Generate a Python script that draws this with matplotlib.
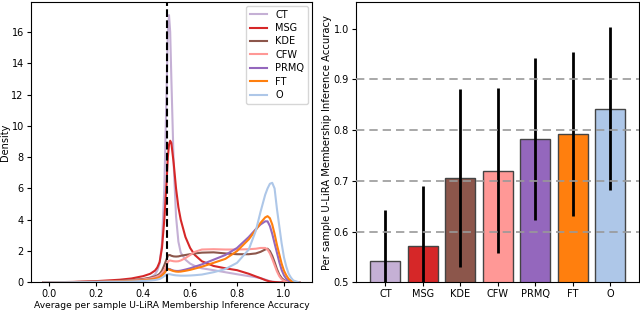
import matplotlib
matplotlib.use("Agg")
import matplotlib.pyplot as plt
import numpy as np

methods = ["CT", "MSG", "KDE", "CFW", "PRMQ", "FT", "O"]
colors = ["#c5b0d5", "#d62728", "#8c564b", "#ff9896", "#9467bd", "#ff7f0e", "#aec7e8"]

# density curves
xs = [-0.025, 0.1, 0.2, 0.3, 0.35, 0.4, 0.43, 0.45, 0.46, 0.47, 0.48, 0.49, 0.50,
      0.505, 0.51, 0.515, 0.52, 0.53, 0.54, 0.55, 0.56, 0.58, 0.60, 0.62, 0.65, 0.70,
      0.75, 0.80, 0.85, 0.88, 0.90, 0.92, 0.93, 0.94, 0.95, 0.96, 0.97, 0.98, 0.99,
      1.00, 1.01, 1.02, 1.03, 1.04, 1.065]
dens_ct = [0, 0.01, 0.03, 0.06, 0.1, 0.18, 0.3, 0.5, 0.75, 1.2, 2.5, 6.0, 12.5,
           16.0, 17.07, 16.0, 13.0, 7.5, 4.2, 2.6, 1.9, 1.45, 1.2, 1.05, 0.9, 0.78,
           0.65, 0.52, 0.4, 0.33, 0.27, 0.18, 0.13, 0.08, 0.05, 0.03, 0.015, 0.005, 0,
           0, 0, 0, 0, 0, 0]
dens_msg = [0, 0.03, 0.08, 0.17, 0.25, 0.4, 0.55, 0.75, 0.95, 1.3, 2.2, 4.0, 6.5,
            8.0, 8.8, 9.05, 8.9, 7.6, 6.0, 4.8, 4.0, 2.9, 2.2, 1.75, 1.35, 1.05,
            0.9, 0.78, 0.55, 0.38, 0.27, 0.15, 0.1, 0.06, 0.03, 0.02, 0.01, 0, 0,
            0, 0, 0, 0, 0, 0]
dens_kde = [0, 0.02, 0.05, 0.1, 0.15, 0.22, 0.3, 0.38, 0.45, 0.55, 0.75, 1.1, 1.5,
            1.7, 1.75, 1.74, 1.7, 1.66, 1.65, 1.66, 1.7, 1.75, 1.8, 1.85, 1.9, 1.92,
            1.85, 1.8, 1.8, 1.85, 1.95, 2.1, 2.15, 2.0, 1.7, 1.3, 0.85, 0.5, 0.28,
            0.15, 0.07, 0.03, 0.01, 0, 0]
dens_cfw = [0, 0.02, 0.04, 0.08, 0.12, 0.18, 0.25, 0.32, 0.38, 0.45, 0.6, 0.8, 1.1,
            1.3, 1.38, 1.4, 1.38, 1.35, 1.34, 1.35, 1.4, 1.55, 1.75, 1.95, 2.1, 2.12,
            2.1, 2.1, 2.12, 2.15, 2.2, 2.2, 2.1, 1.85, 1.5, 1.1, 0.7, 0.4, 0.2,
            0.1, 0.04, 0.02, 0, 0, 0]
dens_prmq = [0, 0.01, 0.03, 0.06, 0.09, 0.13, 0.18, 0.23, 0.27, 0.33, 0.45, 0.6, 0.8,
             0.86, 0.86, 0.84, 0.8, 0.75, 0.73, 0.73, 0.75, 0.82, 0.9, 1.0, 1.15, 1.45,
             1.75, 2.2, 2.9, 3.4, 3.7, 3.9, 3.9, 3.6, 3.1, 2.5, 1.9, 1.3, 0.8,
             0.45, 0.22, 0.1, 0.04, 0.01, 0]
dens_ft = [0, 0.01, 0.03, 0.06, 0.09, 0.13, 0.18, 0.23, 0.27, 0.33, 0.45, 0.6, 0.8,
           0.84, 0.83, 0.8, 0.77, 0.72, 0.69, 0.68, 0.69, 0.74, 0.8, 0.88, 1.0, 1.25,
           1.5, 2.0, 2.75, 3.35, 3.8, 4.15, 4.23, 4.1, 3.7, 3.1, 2.4, 1.8, 1.2,
           0.75, 0.45, 0.22, 0.1, 0.04, 0]
dens_o = [0, 0.01, 0.02, 0.04, 0.06, 0.09, 0.12, 0.15, 0.18, 0.22, 0.3, 0.4, 0.5,
          0.53, 0.53, 0.52, 0.5, 0.47, 0.45, 0.44, 0.43, 0.43, 0.44, 0.46, 0.5, 0.65,
          0.85, 1.25, 2.1, 3.3, 4.5, 5.6, 6.0, 6.3, 6.36, 6.0, 4.7, 3.6, 2.5,
          1.6, 1.0, 0.55, 0.3, 0.12, 0]
densities = [dens_ct, dens_msg, dens_kde, dens_cfw, dens_prmq, dens_ft, dens_o]

# bar panel: mean accuracy and spread
acc_mean = [0.542, 0.572, 0.705, 0.720, 0.782, 0.792, 0.842]
acc_std = [0.100, 0.118, 0.175, 0.162, 0.160, 0.161, 0.161]

fig = plt.figure(figsize=(6.4, 3.11), dpi=100)
ax1 = fig.add_axes([0.048, 0.092, 0.4395, 0.902])
ax2 = fig.add_axes([0.556, 0.092, 0.443, 0.902])

for m, c, d in zip(methods, colors, densities):
    ax1.plot(xs, d, color=c, lw=1.5, label=m)
ax1.axvline(0.5, color="black", ls="--", lw=1.5, zorder=5)
ax1.set_xlim(-0.0795, 1.1195)
ax1.set_ylim(0, 17.92)
ax1.set_xticks([0.0, 0.2, 0.4, 0.6, 0.8, 1.0])
ax1.set_yticks(range(0, 17, 2))
ax1.tick_params(labelsize=7, length=3, pad=2)
ax1.set_xlabel("Average per sample U-LiRA Membership Inference Accuracy", fontsize=6.6, labelpad=1)
ax1.set_ylabel("Density", fontsize=7, labelpad=1)
ax1.legend(loc="upper right", fontsize=7, handlelength=1.8, labelspacing=0.35,
           borderaxespad=0.4)

pos = np.arange(len(methods))
ax2.bar(pos, acc_mean, width=0.8, color=colors, edgecolor="#444444", linewidth=1.0)
ax2.errorbar(pos, acc_mean, yerr=acc_std, fmt="none", ecolor="black", elinewidth=2, capsize=0)
for v in [0.6, 0.7, 0.8, 0.9]:
    ax2.axhline(v, color="#999999", ls="--", lw=1.2, dashes=(5, 3), zorder=4)
ax2.set_ylim(0.5, 1.0525)
ax2.set_xlim(-0.79, 6.77)
ax2.set_xticks(pos)
ax2.set_xticklabels(methods)
ax2.tick_params(labelsize=7, length=3, pad=2)
ax2.set_ylabel("Per sample U-LiRA Membership Inference Accuracy", fontsize=7.2, labelpad=1)

fig.savefig("out.png", dpi=100)
